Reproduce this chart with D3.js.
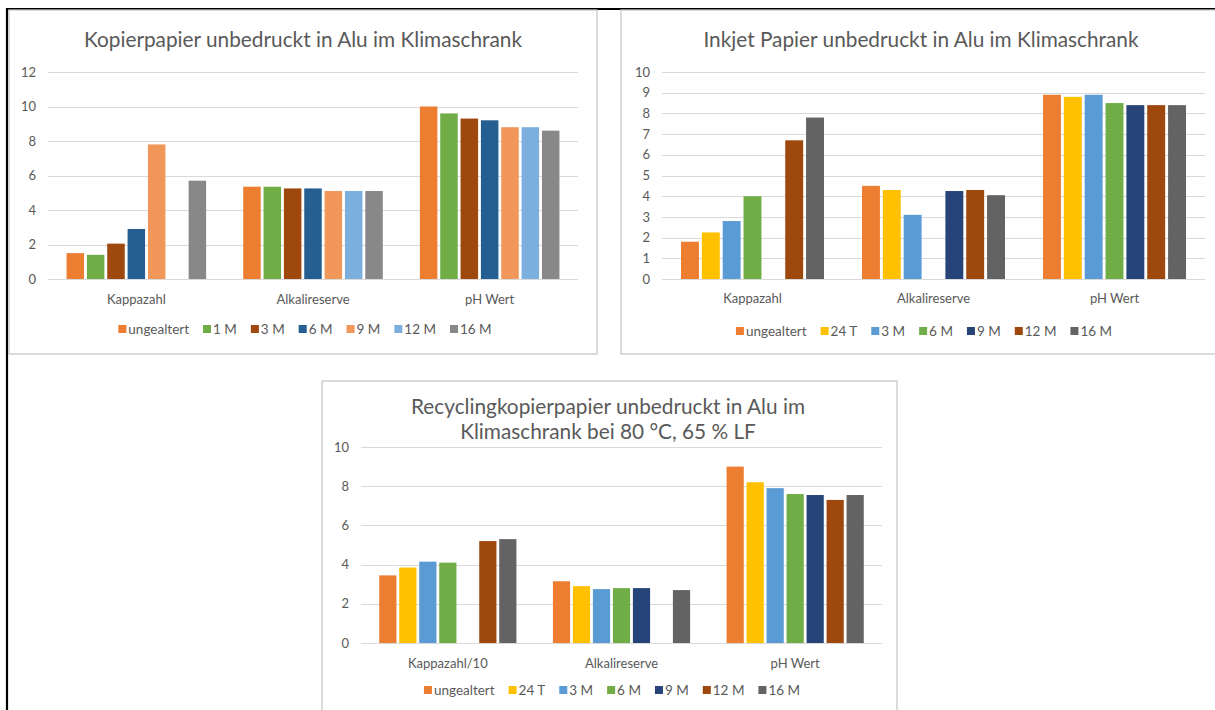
<!DOCTYPE html>
<html>
<head>
<meta charset="utf-8">
<script src="https://cdn.jsdelivr.net/npm/d3@7"></script>
<style>
  html, body { margin: 0; padding: 0; background: #fff; }
  svg { display: block; font-family: Lato, "Noto Sans", sans-serif; }
</style>
</head>
<body>
<svg id="chart" width="1215" height="710"></svg>
<script>
// ---------- DATA ----------
const categories1 = ["Kappazahl", "Alkalireserve", "pH Wert"];
const series1 = ["ungealtert", "1 M", "3 M", "6 M", "9 M", "12 M", "16 M"];
const colors1 = ["#ED7D31", "#70AD47", "#9E480E", "#255E91", "#F1975A", "#7CAFDD", "#888888"];
const values1 = [
  [1.5, 5.35, 10.0],
  [1.4, 5.35, 9.6],
  [2.05, 5.25, 9.3],
  [2.9, 5.25, 9.2],
  [7.8, 5.1, 8.8],
  [null, 5.1, 8.8],
  [5.7, 5.1, 8.6]
];
const ticks1 = [0, 2, 4, 6, 8, 10, 12];

const categories2 = ["Kappazahl", "Alkalireserve", "pH Wert"];
const series2 = ["ungealtert", "24 T", "3 M", "6 M", "9 M", "12 M", "16 M"];
const colors2 = ["#ED7D31", "#FFC000", "#5B9BD5", "#70AD47", "#264478", "#9E480E", "#636363"];
const values2 = [
  [1.8, 4.5, 8.9],
  [2.25, 4.3, 8.8],
  [2.8, 3.1, 8.9],
  [4.0, null, 8.5],
  [null, 4.25, 8.4],
  [6.7, 4.3, 8.4],
  [7.8, 4.05, 8.4]
];
const ticks2 = [0, 1, 2, 3, 4, 5, 6, 7, 8, 9, 10];

const categories3 = ["Kappazahl/10", "Alkalireserve", "pH Wert"];
const series3 = ["ungealtert", "24 T", "3 M", "6 M", "9 M", "12 M", "16 M"];
const colors3 = ["#ED7D31", "#FFC000", "#5B9BD5", "#70AD47", "#264478", "#9E480E", "#636363"];
const values3 = [
  [3.45, 3.15, 9.0],
  [3.85, 2.9, 8.2],
  [4.15, 2.75, 7.9],
  [4.1, 2.8, 7.6],
  [null, 2.8, 7.55],
  [5.2, null, 7.3],
  [5.3, 2.7, 7.55]
];
const ticks3 = [0, 2, 4, 6, 8, 10];

const title1 = ["Kopierpapier unbedruckt in Alu im Klimaschrank"];
const title2 = ["Inkjet Papier unbedruckt in Alu im Klimaschrank"];
const title3 = ["Recyclingkopierpapier unbedruckt in Alu im", "Klimaschrank bei 80 °C, 65 % LF"];

// ---------- DRAW ----------
const svg = d3.select("#chart");
const TEXT = "#595959";

// outer black frame
svg.append("line").attr("x1", 6).attr("x2", 1215).attr("y1", 9).attr("y2", 9)
  .attr("stroke", "#000").attr("stroke-width", 2.2);
svg.append("line").attr("x1", 7).attr("x2", 7).attr("y1", 8).attr("y2", 710)
  .attr("stroke", "#000").attr("stroke-width", 2.2);

function drawChart(cfg) {
  const g = svg.append("g");
  // panel
  g.append("rect").attr("x", cfg.box[0]).attr("y", cfg.box[1])
    .attr("width", cfg.box[2] - cfg.box[0]).attr("height", cfg.box[3] - cfg.box[1])
    .attr("fill", "#fff").attr("stroke", "#C8C8C8").attr("stroke-width", 1.3);

  // title
  cfg.title.forEach((t, i) => {
    g.append("text").attr("x", cfg.titleX).attr("y", cfg.titleY + i * cfg.titleLH)
      .attr("text-anchor", "middle").attr("font-size", cfg.titleSize)
      .attr("fill", TEXT).text(t);
  });

  const y = d3.scaleLinear().domain([0, cfg.yMax]).range([cfg.plot.bottom, cfg.plot.top]);
  const x0 = d3.scaleBand().domain(cfg.categories)
    .range([cfg.plot.left, cfg.plot.right]).paddingInner(0.21).paddingOuter(0.105);
  const x1 = d3.scaleBand().domain(cfg.series).range([0, x0.bandwidth()]).paddingInner(0.14);

  // gridlines
  g.append("g").selectAll("line").data(cfg.ticks).join("line")
    .attr("x1", cfg.plot.left).attr("x2", cfg.plot.right)
    .attr("y1", d => Math.round(y(d)) + 0.5).attr("y2", d => Math.round(y(d)) + 0.5)
    .attr("stroke", "#D9D9D9").attr("stroke-width", 1.2);

  // y axis labels via d3 axis
  const yAxis = d3.axisLeft(y).tickValues(cfg.ticks).tickSize(0).tickPadding(0);
  const ya = g.append("g").attr("transform", `translate(${cfg.yLabelX},0)`).call(yAxis);
  ya.select(".domain").remove();
  ya.selectAll("text").attr("fill", TEXT).attr("font-size", 13)
    .attr("font-family", "Lato, 'Noto Sans', sans-serif");

  // bars
  cfg.series.forEach((s, si) => {
    g.append("g").selectAll("rect")
      .data(cfg.values[si].map((v, ci) => ({ v, c: cfg.categories[ci] })).filter(d => d.v != null))
      .join("rect")
      .attr("x", d => x0(d.c) + x1(s))
      .attr("width", x1.bandwidth())
      .attr("y", d => y(d.v))
      .attr("height", d => y(0) - y(d.v))
      .attr("fill", cfg.colors[si]);
  });

  // x axis category labels
  const xAxis = d3.axisBottom(x0).tickSize(0).tickPadding(0);
  const xa = g.append("g").attr("transform", `translate(0,${cfg.catY})`).call(xAxis);
  xa.select(".domain").remove();
  xa.selectAll("text").attr("fill", TEXT).attr("font-size", 13)
    .attr("font-family", "Lato, 'Noto Sans', sans-serif").attr("dy", "0.35em");

  // legend
  const lg = g.append("g");
  let cx = 0;
  const gap = 14;
  cfg.series.forEach((s, i) => {
    const it = lg.append("g");
    it.append("rect").attr("x", 0).attr("y", -4).attr("width", 8).attr("height", 8)
      .attr("fill", cfg.colors[i]);
    const tx = it.append("text").attr("x", 10).attr("y", 0).attr("dy", "0.35em")
      .attr("font-size", 13.5).attr("fill", TEXT).text(s);
    const w = 10 + tx.node().getComputedTextLength();
    it.attr("transform", `translate(${cx},0)`);
    cx += w + gap;
  });
  const total = cx - gap;
  lg.attr("transform", `translate(${cfg.legendCX - total / 2},${cfg.legendY})`);
}

drawChart({
  box: [9, 10, 597, 354],
  title: title1, titleX: 303, titleY: 47, titleLH: 25, titleSize: 20.8,
  categories: categories1, series: series1, colors: colors1, values: values1,
  yMax: 12, ticks: ticks1,
  plot: { left: 48, right: 578, top: 72, bottom: 279 },
  yLabelX: 36, catY: 299, legendY: 329, legendCX: 305
});

drawChart({
  box: [621, 10, 1216, 354],
  title: title2, titleX: 921, titleY: 47, titleLH: 25, titleSize: 20.8,
  categories: categories2, series: series2, colors: colors2, values: values2,
  yMax: 10, ticks: ticks2,
  plot: { left: 662, right: 1205, top: 72, bottom: 279 },
  yLabelX: 650, catY: 298, legendY: 331, legendCX: 924
});

drawChart({
  box: [322, 381, 897, 712],
  title: title3, titleX: 608, titleY: 414, titleLH: 25, titleSize: 20.8,
  categories: categories3, series: series3, colors: colors3, values: values3,
  yMax: 10, ticks: ticks3,
  plot: { left: 361, right: 882, top: 447, bottom: 643 },
  yLabelX: 349, catY: 663, legendY: 690, legendCX: 612
});
</script>
</body>
</html>
